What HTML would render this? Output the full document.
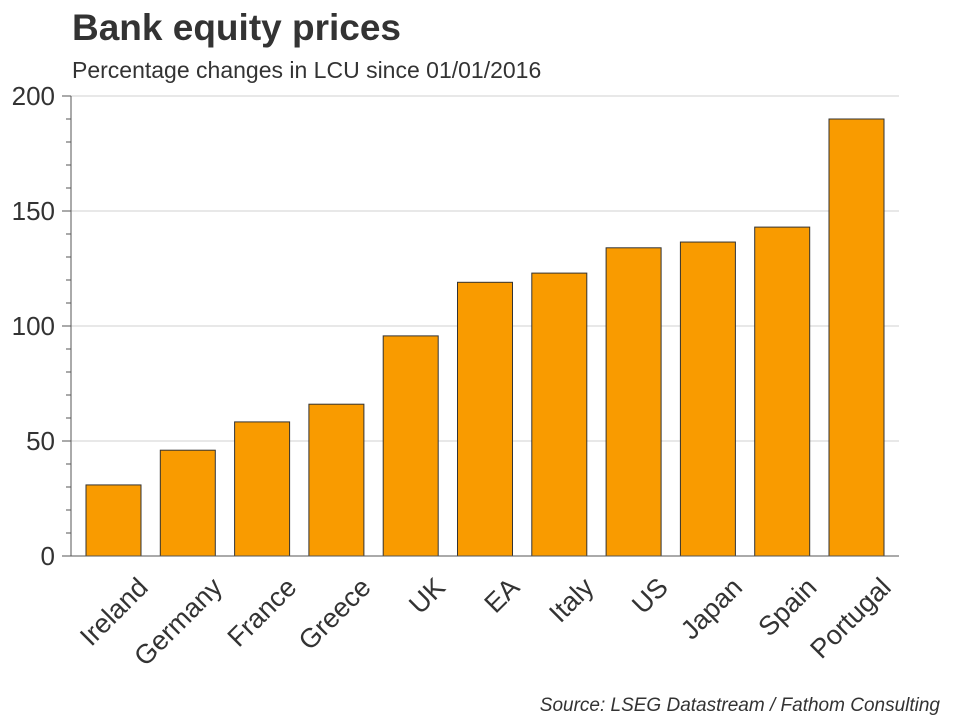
<!DOCTYPE html>
<html><head><meta charset="utf-8"><style>
body{margin:0;background:#fff;}
svg text{font-family:"Liberation Sans",sans-serif;fill:#333;}
</style></head><body>
<svg id="chart" width="960" height="720">
<text x="72" y="40" font-size="37" font-weight="bold">Bank equity prices</text>
<text x="72" y="78" font-size="23">Percentage changes in LCU since 01/01/2016</text>
<text x="940" y="711" font-size="19" font-style="italic" text-anchor="end">Source: LSEG Datastream / Fathom Consulting</text>
<g id="grid"></g><g id="bars"></g><g id="axes"></g>
</svg>
<script>
const categories=["Ireland","Germany","France","Greece","UK","EA","Italy","US","Japan","Spain","Portugal"];
const values=[30.9,46,58.3,66,95.7,119,123,134,136.5,143,190];
const yTicks=[0,50,100,150,200];
const NS="http://www.w3.org/2000/svg";
const y0=556,yTop=96,left=71,right=899,first=113.5,step=74.3,bw=55;
const y=v=>y0-(v/200)*(y0-yTop);
const x=i=>first+i*step;
function mk(t,a,p){const e=document.createElementNS(NS,t);for(const k in a)e.setAttribute(k,a[k]);p.appendChild(e);return e;}
const grid=document.getElementById('grid'),bars=document.getElementById('bars'),axes=document.getElementById('axes');
yTicks.forEach(v=>{
 if(v>0){const g=mk('line',{x1:left,x2:right,y1:y(v),y2:y(v),stroke:'#d0d0d0','stroke-width':1},grid);
 
 }
 const t=mk('text',{x:55,y:y(v)+9,'font-size':26,'text-anchor':'end'},axes);t.textContent=v;
 
 
});
for(let v=0;v<=200;v+=10){const major=v%50===0;
 mk('line',{x1:major?62:66,x2:left,y1:y(v),y2:y(v),stroke:'#555','stroke-width':1},axes);}
const ya=mk('line',{x1:left,x2:left,y1:yTop,y2:y0,stroke:'#555','stroke-width':1},axes);


const xa=mk('line',{x1:left,x2:right,y1:y0,y2:y0,stroke:'#555','stroke-width':1},axes);


categories.forEach((c,i)=>{
 const r=mk('rect',{x:x(i)-bw/2,y:y(values[i]),width:bw,height:y0-y(values[i]),fill:'#f99b00',stroke:'#333','stroke-width':1},bars);
 
 
 const cx=x(i)+36,cy=589;
 const t=mk('text',{x:cx,y:cy,'font-size':27,'text-anchor':'end',transform:`rotate(-45 ${cx} ${cy})`},axes);
 t.textContent=c;
 
 
});
</script>
</body></html>
